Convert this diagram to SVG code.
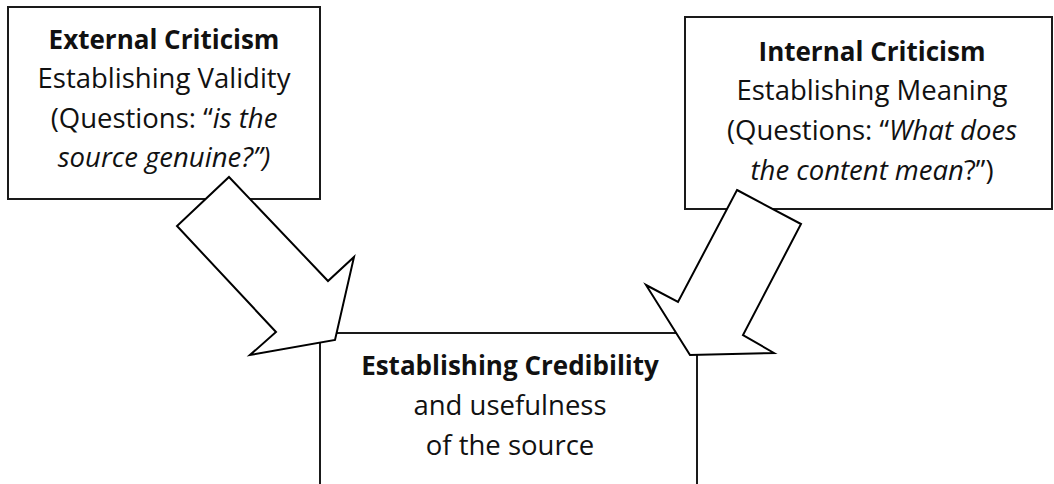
<svg xmlns="http://www.w3.org/2000/svg" width="1054" height="484" viewBox="0 0 1054 484">
<style>
.box{fill:#fff;stroke:#1a1a1a;stroke-width:2}
.arr{fill:#fff;stroke:#000;stroke-width:2;stroke-linejoin:miter}
text{font-family:"Open Sans",Lato,"Liberation Sans",sans-serif;font-size:27.5px;fill:#111;text-anchor:middle}
.b{font-weight:bold;font-size:26px}
.i{font-style:italic}
</style>
<rect width="1054" height="484" fill="#fff"/>
<g id="external">
<rect class="box" x="8" y="7" width="312" height="192"/>
<text class="b" x="164" y="49">External Criticism</text>
<text x="164" y="88">Establishing Validity</text>
<text x="164" y="128">(Questions: “<tspan class="i">is the</tspan></text>
<text class="i" x="164" y="167">source genuine?”)</text>
</g>
<g id="internal">
<rect class="box" x="685" y="17" width="367" height="192"/>
<text class="b" x="872" y="61">Internal Criticism</text>
<text x="872" y="100">Establishing Meaning</text>
<text x="872" y="140">(Questions: “<tspan class="i">What does</tspan></text>
<text x="872" y="180"><tspan class="i">the content mean</tspan>?”)</text>
</g>
<g id="credibility">
<rect class="box" x="320" y="333" width="377" height="170"/>
<text class="b" x="510" y="375">Establishing Credibility</text>
<text x="510" y="415">and usefulness</text>
<text x="510" y="455">of the source</text>
</g>
<g id="connectors">
<polygon class="arr" points="229,177 328,281 354,257 335,340 250,355 276,332 177,226"/>
<polygon class="arr" points="737,190 801,224 743,335 774,353 690,355 646,285 678,302"/>
</g>
</svg>
